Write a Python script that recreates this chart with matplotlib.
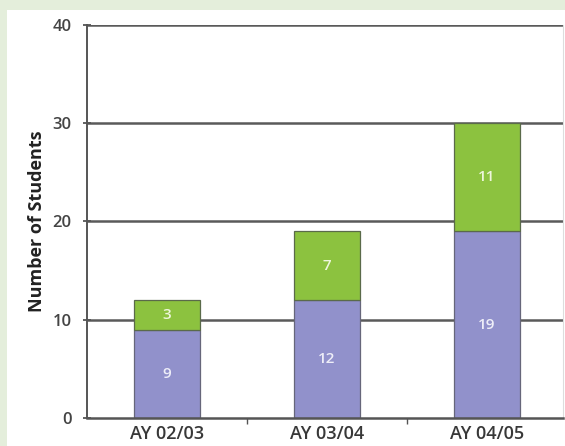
import matplotlib
matplotlib.use("Agg")
import matplotlib.pyplot as plt
from matplotlib.patches import Rectangle

categories = ["AY 02/03", "AY 03/04", "AY 04/05"]
series_a = [9, 12, 19]
series_b = [3, 7, 11]
yticks = [0, 10, 20, 30, 40]

plt.rcParams['font.family'] = ['Open Sans', 'DejaVu Sans']

fig = plt.figure(figsize=(5.65, 4.46), dpi=100)
fig.patch.set_facecolor("#e4eedb")
fig.patches.append(Rectangle((7/565, 0), 1, 1 - 10/446, transform=fig.transFigure,
                             facecolor="white", edgecolor="none", zorder=-10))
ax = fig.add_axes([87/565, 28/446, 476/565, 393/446])
ax.set_facecolor("none")

x = list(range(len(categories)))
w = 0.41
purple = "#9191cb"
green = "#8cc23f"
for yv in yticks[1:]:
    ax.axhline(yv, color="#5a5a5a", lw=1.8, zorder=1)
b1 = ax.bar(x, series_a, width=w, color=purple, edgecolor="#66667a", lw=0.9, zorder=2)
b2 = ax.bar(x, series_b, width=w, bottom=series_a, color=green, edgecolor="#5a6a4a", lw=0.9, zorder=2)
for xi, a, b in zip(x, series_a, series_b):
    ax.text(xi, a / 2, str(a), ha="center", va="center", color="#eeeef8", fontsize=11,
            fontweight="semibold", zorder=3)
    ax.text(xi, a + b / 2, str(b), ha="center", va="center", color="#eef6dc", fontsize=11,
            fontweight="semibold", zorder=3)

ax.set_xlim(-0.5, 2.475)
ax.set_ylim(0, 40)
ax.set_yticks(yticks)
ax.set_yticklabels([str(t) for t in yticks], color="#444444", fontsize=12, fontweight="semibold")
ax.set_xticks(x)
ax.set_xticklabels(categories, color="#383838", fontsize=13, fontweight="semibold")
ax.tick_params(axis="x", length=0, pad=5)
ax.tick_params(axis="y", length=6, width=1.3, color="#555555", direction="inout", pad=8)
ax.set_xticks([0.5, 1.5], minor=True)
ax.tick_params(axis="x", which="minor", length=4, width=1, color="#555555", direction="out")
ax.spines["top"].set_visible(False)
ax.spines["right"].set_color("#dddddd")
ax.spines["left"].set_color("#555555")
ax.spines["left"].set_linewidth(1.4)
ax.spines["bottom"].set_color("#555555")
ax.spines["bottom"].set_linewidth(1.8)
ax.set_ylabel("Number of Students", fontsize=13, fontweight="bold", color="#222222", labelpad=5)

fig.savefig("out.png", dpi=100, facecolor=fig.get_facecolor())
